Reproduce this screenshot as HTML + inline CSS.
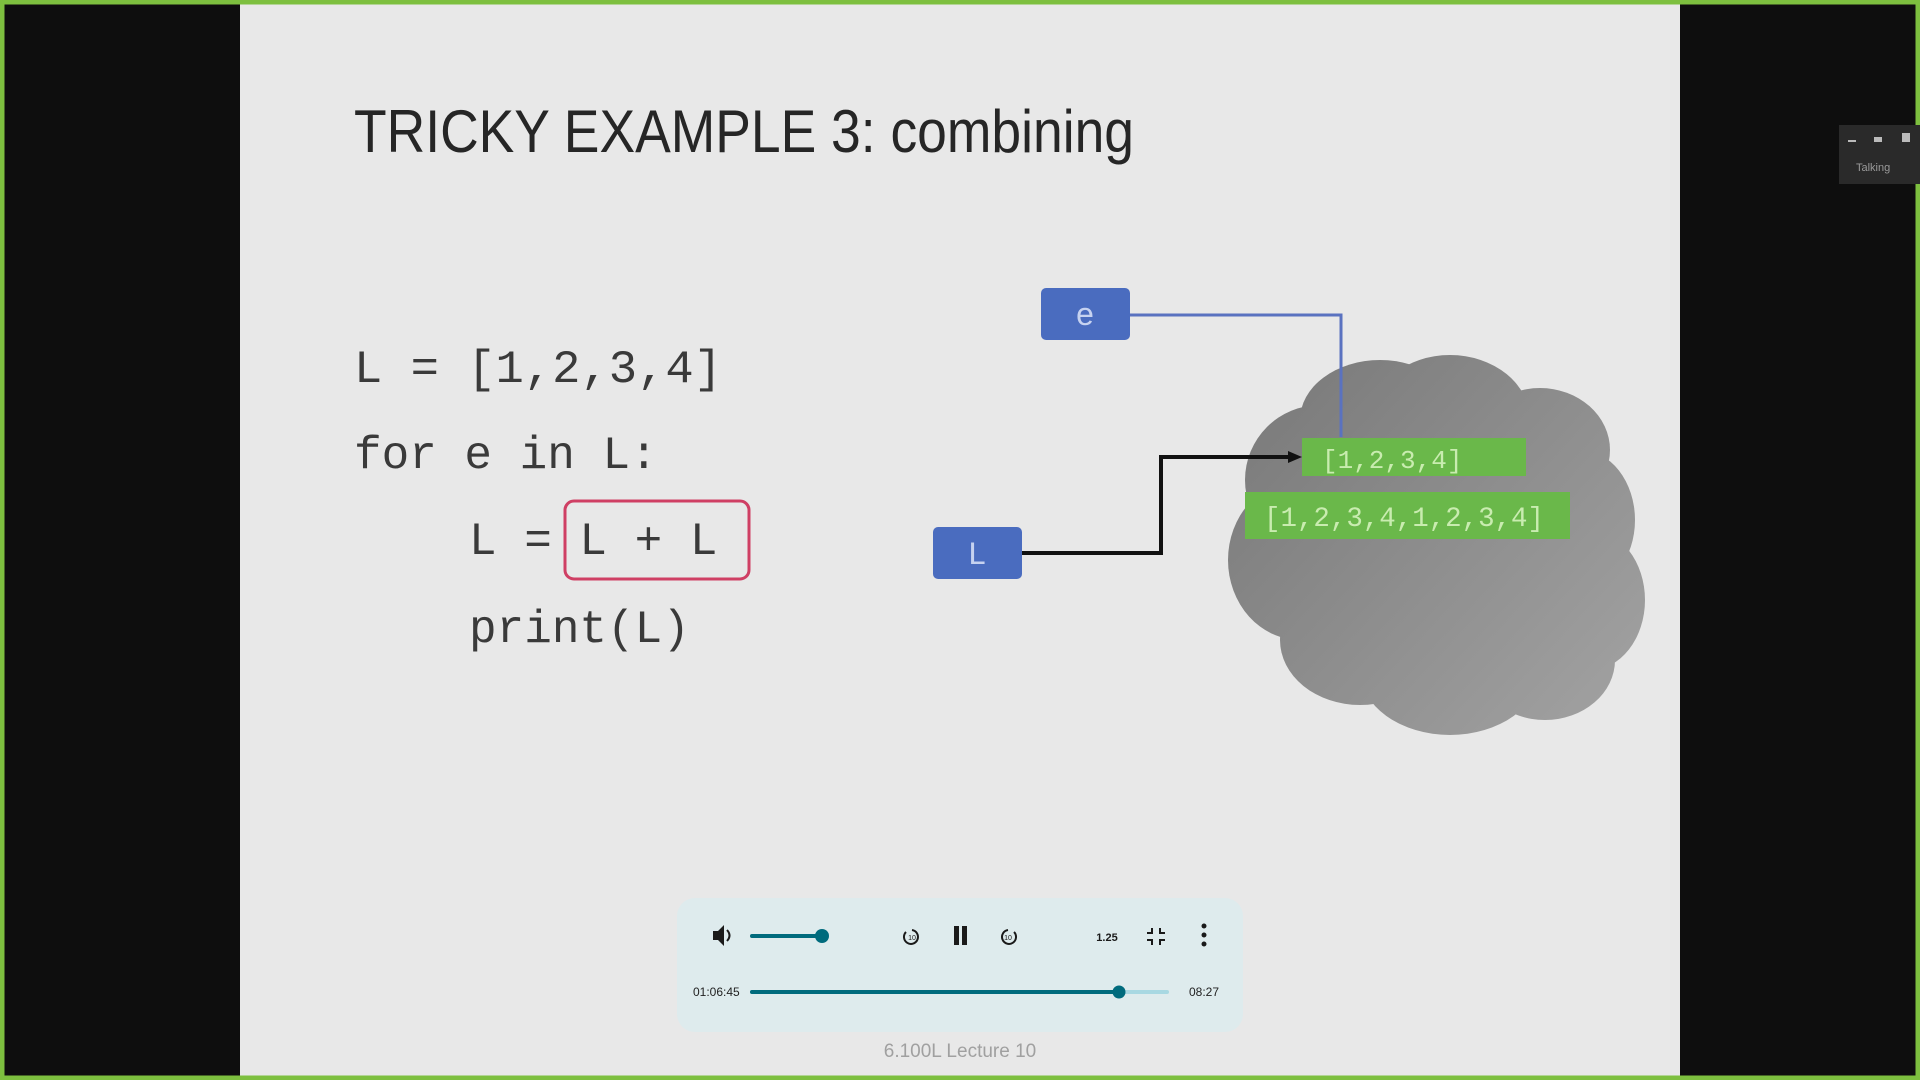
<!DOCTYPE html>
<html><head><meta charset="utf-8"><style>html,body{margin:0;padding:0;background:#0c0c0c;overflow:hidden}svg{display:block}</style></head>
<body>
<svg width="1920" height="1080" viewBox="0 0 1920 1080" xmlns="http://www.w3.org/2000/svg">
<defs>
<linearGradient id="cg" gradientUnits="userSpaceOnUse" x1="1230" y1="350" x2="1650" y2="740"><stop offset="0" stop-color="#777"/><stop offset="1" stop-color="#a4a4a4"/></linearGradient>
</defs>
<rect width="1920" height="1080" fill="#0e0e0e"/>
<rect x="240" y="0" width="1440" height="1080" fill="#e8e8e8"/>
<rect x="2" y="2" width="1916" height="1076" fill="none" stroke="#7dbf3f" stroke-width="5"/>
<text x="354" y="152" font-family="Liberation Sans, sans-serif" font-size="60" fill="#262626" textLength="780" lengthAdjust="spacingAndGlyphs">TRICKY EXAMPLE 3: combining</text>
<g font-family="Liberation Mono, monospace" font-size="46" fill="#3a3a3a">
<text x="354" y="382" textLength="368" lengthAdjust="spacingAndGlyphs">L = [1,2,3,4]</text>
<text x="354" y="468">for e in L:</text>
<text x="469" y="554">L = L + L</text>
<text x="469" y="642">print(L)</text>
</g>
<rect x="565" y="501" width="184" height="78" rx="9" fill="none" stroke="#cf3f64" stroke-width="3"/>
<g fill="url(#cg)">
<ellipse cx="1450" cy="420" rx="80" ry="65"/>
<ellipse cx="1540" cy="450" rx="70" ry="62"/>
<ellipse cx="1380" cy="420" rx="80" ry="60"/>
<ellipse cx="1320" cy="480" rx="75" ry="75"/>
<ellipse cx="1300" cy="560" rx="72" ry="80"/>
<ellipse cx="1580" cy="520" rx="55" ry="70"/>
<ellipse cx="1590" cy="600" rx="55" ry="70"/>
<ellipse cx="1360" cy="640" rx="80" ry="65"/>
<ellipse cx="1450" cy="670" rx="90" ry="65"/>
<ellipse cx="1545" cy="660" rx="70" ry="60"/>
<rect x="1290" y="440" width="310" height="230"/>
</g>
<polyline points="1130,315 1341,315 1341,437" fill="none" stroke="#5a72c0" stroke-width="3"/>
<polyline points="1022,553 1161,553 1161,457 1290,457" fill="none" stroke="#111" stroke-width="4"/>
<polygon points="1302,457 1288,451 1288,463" fill="#111"/>
<rect x="1302" y="438" width="224" height="38" fill="#6ab84a"/>
<text x="1322" y="468" font-family="Liberation Mono, monospace" font-size="26" fill="#c9ecb0">[1,2,3,4]</text>
<rect x="1245" y="492" width="325" height="47" fill="#6ab84a"/>
<text x="1264" y="526" font-family="Liberation Mono, monospace" font-size="28" fill="#c9ecb0" textLength="280" lengthAdjust="spacingAndGlyphs">[1,2,3,4,1,2,3,4]</text>
<rect x="1041" y="288" width="89" height="52" rx="5" fill="#4a6cbf"/>
<text x="1085" y="325" text-anchor="middle" font-family="Liberation Mono, monospace" font-size="32" fill="#c6d2f0">e</text>
<rect x="933" y="527" width="89" height="52" rx="5" fill="#4a6cbf"/>
<text x="977" y="564" text-anchor="middle" font-family="Liberation Mono, monospace" font-size="32" fill="#c6d2f0">L</text>
<rect x="677" y="898" width="566" height="134" rx="18" fill="#deebed"/>
<g fill="#1a1a1a">
<polygon points="713,931 718,931 724,925 724,946 718,940 713,940"/>
<path d="M727,930 q5,5.5 0,11" stroke="#1a1a1a" stroke-width="2" fill="none"/>
<rect x="954" y="926" width="5" height="19"/><rect x="962" y="926" width="5" height="19"/>
<circle cx="1204" cy="926" r="2.5"/><circle cx="1204" cy="935" r="2.5"/><circle cx="1204" cy="944" r="2.5"/>
</g>
<g fill="none" stroke="#1a1a1a" stroke-width="2">
<path d="M906,932 a7,7 0 1 0 6,-2"/><path d="M1014,932 a7,7 0 1 1 -6,-2"/>
<path d="M1152,928 v5 h-5 M1160,928 v5 h5 M1152,945 v-5 h-5 M1160,945 v-5 h5"/>
</g>
<text x="912" y="940" text-anchor="middle" font-family="Liberation Sans, sans-serif" font-size="7" fill="#1a1a1a">10</text>
<text x="1008" y="940" text-anchor="middle" font-family="Liberation Sans, sans-serif" font-size="7" fill="#1a1a1a">10</text>
<text x="1107" y="941" text-anchor="middle" font-family="Liberation Sans, sans-serif" font-size="11" font-weight="bold" fill="#1a1a1a">1.25</text>
<line x1="752" y1="936" x2="822" y2="936" stroke="#006b7d" stroke-width="4" stroke-linecap="round"/>
<circle cx="822" cy="936" r="7" fill="#006b7d"/>
<line x1="752" y1="992" x2="1167" y2="992" stroke="#a8d8e2" stroke-width="4" stroke-linecap="round"/>
<line x1="752" y1="992" x2="1119" y2="992" stroke="#006b7d" stroke-width="4" stroke-linecap="round"/>
<circle cx="1119" cy="992" r="6.5" fill="#006b7d"/>
<text x="693" y="996" font-family="Liberation Sans, sans-serif" font-size="12" fill="#222">01:06:45</text>
<text x="1189" y="996" font-family="Liberation Sans, sans-serif" font-size="12" fill="#222">08:27</text>
<text x="960" y="1057" text-anchor="middle" font-family="Liberation Sans, sans-serif" font-size="19" fill="#a0a0a0">6.100L Lecture 10</text>
<rect x="1839" y="125" width="81" height="59" fill="#2a2a2a"/>
<rect x="1848" y="140" width="8" height="2" fill="#bbb"/><rect x="1874" y="137" width="8" height="5" fill="#bbb"/><rect x="1902" y="133" width="8" height="9" fill="#bbb"/>
<text x="1856" y="171" font-family="Liberation Sans, sans-serif" font-size="11" fill="#999">Talking</text>
</svg>
</body></html>
